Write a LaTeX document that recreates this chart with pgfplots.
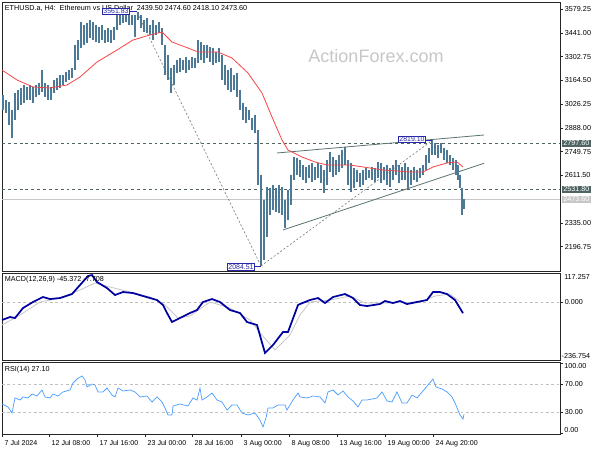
\documentclass[border=0pt]{standalone}
\usepackage{fontspec}
\setmainfont{Liberation Sans}
\usepackage{pgfplots}
\usepackage{pgfplotstable}
\pgfplotsset{compat=1.18}
\definecolor{barc}{RGB}{76,121,150}
\definecolor{mared}{RGB}{245,70,70}
\definecolor{lvl}{RGB}{80,100,100}
\definecolor{trend}{RGB}{90,115,115}
\definecolor{lblue}{RGB}{40,40,170}
\definecolor{macdc}{RGB}{0,0,160}
\definecolor{rsic}{RGB}{80,160,255}
\pgfplotstableread{
x h l
3 3080.2 2992.8
6 3051.1 2975.4
9 3039.4 2905.5
12 2992.8 2829.8
15 3091.8 2934.6
18 3109.3 2992.8
21 3120.9 3021.9
24 3138.4 3033.6
27 3126.8 3051.1
30 3138.4 3051.1
33 3126.8 3033.6
36 3138.4 3068.5
39 3150.1 3080.2
42 3225.8 3097.6
45 3150.1 3068.5
48 3138.4 3051.1
51 3126.8 3051.1
54 3167.5 3091.8
57 3179.2 3109.3
60 3196.6 3120.9
63 3196.6 3138.4
66 3214.1 3155.9
69 3225.8 3167.5
72 3237.4 3179.2
75 3371.4 3225.8
78 3400.5 3284.0
81 3505.3 3353.9
84 3487.8 3371.4
87 3499.5 3383.0
90 3516.9 3412.1
93 3505.3 3400.5
96 3487.8 3388.8
99 3476.2 3383.0
102 3487.8 3400.5
105 3458.7 3383.0
108 3470.4 3388.8
111 3458.7 3383.0
114 3476.2 3400.5
117 3546.1 3458.7
120 3557.7 3487.8
123 3546.1 3499.5
126 3557.7 3505.3
129 3557.7 3487.8
132 3546.1 3487.8
135 3546.1 3417.9
138 3561.83 3516.9
141 3546.1 3470.4
144 3516.9 3447.1
147 3528.6 3441.2
150 3487.8 3429.6
153 3516.9 3400.5
156 3487.8 3429.6
159 3505.3 3441.2
162 3470.4 3371.4
165 3371.4 3196.6
168 3313.1 3167.5
171 3237.4 3091.8
174 3254.9 3138.4
177 3284.0 3208.3
180 3295.6 3214.1
183 3284.0 3225.8
186 3301.5 3208.3
189 3284.0 3225.8
192 3301.5 3237.4
195 3295.6 3237.4
198 3400.5 3266.5
201 3388.8 3284.0
204 3371.4 3266.5
207 3371.4 3295.6
210 3359.7 3272.4
213 3353.9 3254.9
216 3330.6 3266.5
219 3353.9 3272.4
222 3313.1 3167.5
225 3254.9 3138.4
228 3225.8 3109.3
231 3237.4 3097.6
234 3196.6 3109.3
237 3208.3 3068.5
240 3109.3 2992.8
243 3033.6 2934.6
246 3010.3 2917.1
249 2992.8 2934.6
252 2946.2 2876.4
255 2963.7 2858.9
258 2876.4 2556.1
261 2614.3 2084.51
264 2468.7 2119.3
267 2544.4 2253.2
270 2538.6 2381.4
273 2556.1 2410.5
276 2538.6 2398.8
279 2556.1 2393.0
282 2544.4 2381.4
285 2468.7 2305.7
288 2526.9 2352.2
291 2614.3 2439.6
294 2719.1 2585.2
297 2713.3 2614.3
300 2701.7 2602.7
303 2672.5 2585.2
306 2660.9 2567.7
309 2672.5 2596.8
312 2684.2 2573.5
315 2660.9 2585.2
318 2684.2 2596.8
321 2672.5 2567.7
324 2643.4 2509.5
327 2701.7 2556.1
330 2748.2 2631.8
333 2719.1 2602.7
336 2701.7 2614.3
339 2730.8 2631.8
342 2759.9 2655.1
345 2777.4 2672.5
348 2701.7 2556.1
351 2684.2 2515.3
354 2655.1 2538.6
357 2643.4 2573.5
360 2625.9 2544.4
363 2643.4 2556.1
366 2655.1 2585.2
369 2643.4 2596.8
372 2660.9 2585.2
375 2655.1 2573.5
378 2690.0 2596.8
381 2684.2 2567.7
384 2660.9 2585.2
387 2672.5 2556.1
390 2655.1 2544.4
393 2672.5 2585.2
396 2701.7 2614.3
399 2672.5 2567.7
402 2660.9 2585.2
405 2684.2 2585.2
408 2660.9 2538.6
411 2643.4 2556.1
414 2660.9 2585.2
417 2643.4 2573.5
420 2655.1 2596.8
423 2672.5 2614.3
426 2730.8 2643.4
429 2771.5 2684.2
432 2819.1 2730.8
435 2800.7 2730.8
438 2789.0 2713.3
441 2800.7 2742.4
444 2771.5 2701.7
447 2759.9 2684.2
450 2730.8 2672.5
453 2713.3 2643.4
456 2701.7 2614.3
458 2672.5 2585.2
460 2614.3 2538.6
462 2538.6 2381.4
464 2474.6 2418.1
}\bars
\pgfplotstableread{
x m
2 3225.8
17 3167.5
33 3126.8
50 3120.9
67 3138.4
80 3185.0
97 3272.4
117 3342.2
133 3400.5
150 3429.6
162 3447.1
172 3388.8
188 3353.9
198 3330.6
218 3330.6
225 3313.1
232 3295.6
248 3208.3
262 3091.8
272 2952.1
282 2818.1
288 2759.9
302 2719.1
315 2690.0
327 2672.5
350 2672.5
383 2643.4
410 2631.8
423 2631.8
433 2660.9
447 2684.2
457 2690.0
463 2660.9
}\ma
\pgfplotstableread{
x v
2 -73.4
10 -61.2
15 -65.3
23 -24.4
33 0.1
43 20.5
50 12.3
60 16.4
72 32.7
80 69.5
88 106.2
92 110.3
97 81.7
107 57.2
115 28.7
123 40.9
133 36.8
143 24.6
157 8.3
163 -12.2
167 -44.8
172 -81.6
180 -65.3
190 -44.8
197 -32.6
203 0.1
212 12.3
220 0.1
230 -32.6
240 -44.8
247 -81.6
257 -93.8
265 -208.2
273 -175.5
283 -122.4
288 -122.4
298 -12.2
300 -8.1
310 8.3
318 16.4
325 -4.0
333 20.5
345 32.7
353 16.4
360 -12.2
367 -16.3
380 -8.1
385 4.2
393 -4.0
400 4.2
407 -8.1
417 0.1
427 8.3
433 40.9
440 40.9
447 32.7
455 8.3
463 -45.4
}\macd
\pgfplotstableread{
x v
2 -93.8
20 -53.0
40 0.1
60 16.4
80 49.1
95 77.7
110 61.3
130 40.9
150 20.5
165 -12.2
178 -65.3
190 -57.1
210 0.1
230 -24.4
250 -73.4
262 -134.7
275 -195.9
290 -134.7
300 -53.0
310 0.1
330 8.3
350 24.6
365 -4.0
390 -4.0
420 0.1
435 24.6
450 32.7
463 -7.7
}\signal
\pgfplotstableread{
x v
2 41.8
8 37.6
12 29.1
15 50.4
20 47.5
23 51.8
28 50.4
32 56.0
37 53.2
42 61.7
45 51.8
50 50.4
53 56.0
58 53.2
63 58.9
70 61.7
73 71.6
77 77.3
82 81.6
85 75.9
87 66.0
92 70.2
95 68.8
98 58.9
103 58.9
107 64.5
112 54.6
115 51.8
118 64.5
123 60.3
130 61.7
135 58.9
140 51.8
147 53.2
152 44.7
157 51.8
162 44.7
165 36.2
168 26.2
172 26.2
173 39.0
180 41.8
188 39.0
193 50.4
197 47.5
200 64.5
202 47.5
207 51.8
212 57.4
217 47.5
222 44.7
227 33.3
232 40.4
237 40.4
242 29.1
248 26.2
255 29.1
260 19.1
263 9.2
266 22.0
268 36.2
273 36.2
278 40.4
285 40.4
287 33.3
293 47.5
298 57.4
300 51.8
307 50.4
313 53.2
320 51.8
325 43.3
328 58.9
333 61.7
338 54.6
343 60.3
348 51.8
353 46.1
358 37.6
362 47.5
367 47.5
377 50.4
382 58.9
387 46.1
392 44.7
397 58.9
402 43.3
407 43.3
412 54.6
417 50.4
423 60.3
428 68.8
433 77.3
436 66.0
442 63.1
447 58.9
452 51.8
455 43.3
458 33.3
460 26.2
463 20.6
464 27.1
}\rsi
\begin{document}
\begin{tikzpicture}
\fill[white] (0,0) rectangle (450pt,-337.5pt);
\path[use as bounding box] (0,0) rectangle (450pt,-337.5pt);
\pgfplotsset{
  common/.style={scale only axis, width=418.5pt, xmin=2, xmax=560, anchor=north west,
    axis line style={draw=black!85, line width=0.55pt},
    tick style={draw=black!85, line width=0.5pt},
    major tick length=2.2pt, tick align=outside,
    ytick pos=right, yticklabel pos=right, xtick pos=bottom,
    clip mode=individual,
    /pgf/number format/assume math mode=true,
    y tick label style={font=\fontsize{5.4}{6}\selectfont, anchor=west, xshift=-2pt},
  },
}
% ---------------- main price panel
\begin{axis}[common, at={(1.5pt,-1.5pt)}, height=202.1pt,
  ymin=2052.3, ymax=3621.8, xtick=\empty,
  ytick={2196.75,2335,2611.5,2749.75,2888,3026.25,3164.5,3302.75,3441,3579.25},
  y tick label style={/pgf/number format/.cd, fixed, fixed zerofill, precision=2, 1000 sep={}},
]
\node[font=\fontsize{13.5}{14}\selectfont, text=black!22, anchor=center] at (axis cs:376,3307) {ActionForex.com};
\addplot[draw=black!22, line width=0.7pt] coordinates {(2,2473.6)(560,2473.6)};
\addplot[draw=lvl, line width=0.6pt, dash pattern=on 2.2pt off 2.2pt] coordinates {(2,2797.6)(560,2797.6)};
\addplot[draw=lvl, line width=0.6pt, dash pattern=on 2.2pt off 2.2pt] coordinates {(2,2531.8)(560,2531.8)};
\addplot[draw=gray, line width=0.5pt, dash pattern=on 1.5pt off 1.5pt] coordinates {(137,3561.83)(261,2084.51)};
\addplot[draw=gray, line width=0.5pt, dash pattern=on 1.5pt off 1.5pt] coordinates {(261,2084.51)(433,2819.1)};
\addplot[draw=trend, line width=0.6pt] coordinates {(277,2742.4)(484,2847.2)};
\addplot[draw=trend, line width=0.6pt] coordinates {(283,2294.0)(484,2682.4)};
\addplot[only marks, mark=*, mark size=0pt, mark options={draw=none, fill=none},
  error bars/.cd, y dir=minus, y explicit, error mark=none,
  error bar style={draw=barc, line width=1.05pt}]
  table[x=x, y=h, y error expr=\thisrow{h}-\thisrow{l}] {\bars};
\addplot[draw=mared, line width=0.6pt] table[x=x, y=m] {\ma};
% labels
\node[font=\fontsize{5.4}{6}\selectfont, anchor=north west, inner sep=0pt] at (rel axis cs:0,1) [xshift=2pt, yshift=-2.2pt] {ETHUSD.a, H4:\ \ Ethereum vs US Dollar\ \ 2439.50 2474.60 2418.10 2473.60};
\node[draw=lblue, text=lblue, fill=white, font=\fontsize{5.2}{6}\selectfont, inner sep=0.6pt, line width=0.45pt] at (axis cs:116,3566.4) {3561.83};
\draw[lblue, line width=0.45pt] (axis cs:129,3566.4) -- (axis cs:137,3566.4);
\node[draw=lblue, text=lblue, fill=white, font=\fontsize{5.2}{6}\selectfont, inner sep=0.6pt, line width=0.45pt] at (axis cs:241,2078.6) {2084.51};
\draw[lblue, line width=0.45pt] (axis cs:254,2084.51) -- (axis cs:261,2084.51);
\node[draw=lblue, text=lblue, fill=white, font=\fontsize{5.2}{6}\selectfont, inner sep=0.6pt, line width=0.45pt] at (axis cs:412,2821.0) {2819.10};
\draw[lblue, line width=0.45pt] (axis cs:425,2819.1) -- (axis cs:432,2819.1);
\node[fill=lvl, text=white, font=\fontsize{5.4}{6}\selectfont, inner sep=0.8pt, anchor=west] at (axis cs:560,2797.6) [xshift=1.6pt] {2797.60};
\node[fill=lvl, text=white, font=\fontsize{5.4}{6}\selectfont, inner sep=0.8pt, anchor=west] at (axis cs:560,2531.8) [xshift=1.6pt] {2531.80};
\node[fill=black!22, text=white, font=\fontsize{5.4}{6}\selectfont, inner sep=0.8pt, anchor=west] at (axis cs:560,2473.6) [xshift=1.6pt] {2473.60};
\end{axis}
% ---------------- MACD panel
\begin{axis}[common, at={(1.5pt,-205.0pt)}, height=65pt,
  ymin=-236.754, ymax=117.257, xtick=\empty, ytick={0}, yticklabels={0.000}]
\addplot[draw=black!25, line width=0.5pt, dash pattern=on 2pt off 2pt] coordinates {(2,0)(560,0)};
\addplot[draw=black!22, line width=0.6pt] table[x=x, y=v] {\signal};
\addplot[draw=macdc, line width=1.3pt] table[x=x, y=v] {\macd};
\node[font=\fontsize{5.4}{6}\selectfont, anchor=north west, inner sep=0pt] at (rel axis cs:0,1) [xshift=2pt, yshift=-2pt] {MACD(12,26,9) -45.372 -7.708};
\node[font=\fontsize{5.4}{6}\selectfont, anchor=north west, inner sep=0pt] at (rel axis cs:1,1) [xshift=3pt, yshift=-1pt] {117.257};
\node[font=\fontsize{5.4}{6}\selectfont, anchor=south west, inner sep=0pt] at (rel axis cs:1,0) [xshift=1pt, yshift=1pt] {-236.754};
\end{axis}
% ---------------- RSI panel
\begin{axis}[common, at={(1.5pt,-271.7pt)}, height=53.8pt,
  ymin=-0.7, ymax=101, ytick={0,30,70,100}, yticklabels={,30.00,70.00,},
  xtick={2,49,97,145,192,241,289,337,385,433},
  xticklabels={7 Jul 2024,12 Jul 08:00,17 Jul 16:00,23 Jul 00:00,28 Jul 16:00,3 Aug 00:00,8 Aug 08:00,13 Aug 16:00,19 Aug 00:00,24 Aug 20:00},
  x tick label style={font=\fontsize{5.3}{6}\selectfont, anchor=north west, xshift=-1.5pt, yshift=1pt},
]
\addplot[draw=black!25, line width=0.5pt, dash pattern=on 2pt off 2pt] coordinates {(2,30)(560,30)};
\addplot[draw=black!25, line width=0.5pt, dash pattern=on 2pt off 2pt] coordinates {(2,70)(560,70)};
\addplot[draw=rsic, line width=0.55pt] table[x=x, y=v] {\rsi};
\node[font=\fontsize{5.4}{6}\selectfont, anchor=north west, inner sep=0pt] at (rel axis cs:0,1) [xshift=2pt, yshift=-2.5pt] {RSI(14) 27.10};
\node[font=\fontsize{5.4}{6}\selectfont, anchor=north west, inner sep=0pt] at (rel axis cs:1,1) [xshift=3pt, yshift=-1pt] {100.00};
\node[font=\fontsize{5.4}{6}\selectfont, anchor=south west, inner sep=0pt] at (rel axis cs:1,0) [xshift=3pt, yshift=1pt] {0.00};
\end{axis}
\end{tikzpicture}
\end{document}
